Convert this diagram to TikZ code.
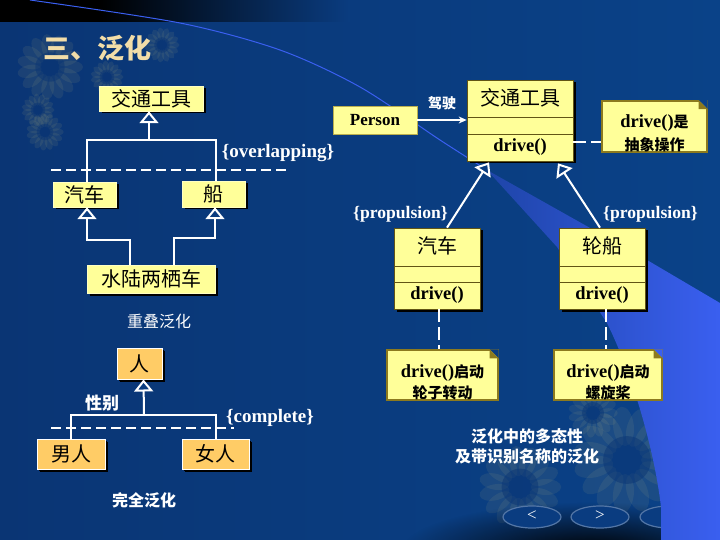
\documentclass[tikz,border=0pt]{standalone}
\usepackage{fontspec}
\setmainfont{Liberation Serif}
\newfontfamily\cjk{Noto Sans CJK SC}
\usetikzlibrary{arrows.meta,shadows,fadings}
\definecolor{bgblue}{HTML}{0A3C80}
\definecolor{bgdeep}{HTML}{0A3574}
\definecolor{bgpale}{HTML}{0A4288}
\definecolor{swoosh}{HTML}{3A5FF0}
\definecolor{swooshdim}{HTML}{1E45A8}
\definecolor{boxyellow}{HTML}{FFFF99}
\definecolor{boxorange}{HTML}{FFCC66}
\definecolor{noteedge}{HTML}{8C7A1E}
\definecolor{titletan}{HTML}{F2DDA8}
\definecolor{petaltan}{HTML}{C8C080}
\tikzfading[name=glowfade,inner color=transparent!0,outer color=transparent!100]
\tikzset{
  boxshadow/.style={drop shadow={shadow xshift=2.5pt,shadow yshift=-2.5pt,fill=black,opacity=1}},
  simplebox/.style={rectangle,draw=boxyellow!60!white,line width=.5pt,fill=boxyellow,inner sep=0pt,text=black,boxshadow,font=\cjk\fontsize{20}{22}\selectfont},
  orangebox/.style={simplebox,fill=boxorange,draw=white,line width=1pt,drop shadow={shadow xshift=1.5pt,shadow yshift=-1.5pt,fill=black,opacity=1}},
  classpart/.style={rectangle,draw=noteedge!70!black,line width=.7pt,fill=boxyellow,inner sep=0pt,text=black,minimum width=#1,boxshadow,font=\cjk\fontsize{20}{22}\selectfont},
  methodfont/.style={font=\bfseries\fontsize{18.5}{20}\selectfont},
  notebox/.style={rectangle,draw=noteedge,line width=1.4pt,fill=boxyellow,inner sep=0pt,text=black,align=center},
  linkline/.style={draw=white,line width=2pt},
  genarrow/.style={linkline,-{Triangle[open,fill=bgblue,length=12pt,width=19pt,line width=2pt]}},
  dashline/.style={draw=white,line width=1.8pt,dash pattern=on 10pt off 5pt},
  notelink/.style={draw=white,line width=1.8pt,dash pattern=on 13pt off 5pt},
  whitelabel/.style={text=white,inner sep=0pt},
  latinlabel/.style={whitelabel,font=\bfseries\fontsize{19}{20}\selectfont},
  proplabel/.style={whitelabel,font=\bfseries\fontsize{17.6}{20}\selectfont},
  cjklabel/.style={whitelabel,font=\cjk\fontsize{#1}{#1}\selectfont},
  cjkbold/.style={whitelabel,font=\cjk\bfseries\fontsize{#1}{#1}\selectfont},
  flowerpetal/.style={fill=petaltan,opacity=.09},
  navbutton/.style={fill=bgblue,draw=white!30!bgblue,line width=1.2pt}
}
\newcommand{\notefold}[2]{
  \fill[#2] ([xshift=-9pt]#1.north east) -- (#1.north east) -- ([yshift=-9pt]#1.north east) -- cycle;
  \fill[noteedge] ([xshift=-9pt]#1.north east) -- ([xshift=-9pt,yshift=-9pt]#1.north east) -- ([yshift=-9pt]#1.north east) -- cycle;
}
\newcommand{\sunflower}[3]{
  \foreach \petal in {0,24,...,336}
    \fill[flowerpetal,rotate around={\petal:(#1,#2)}] (#1+#3*.65,#2) ellipse ({#3*.38} and {#3*.2});
  \fill[bgdeep,opacity=.5] (#1,#2) circle ({#3*.46});
}
\begin{document}
\begin{tikzpicture}[x=1pt,y=-1pt]
\useasboundingbox (0,0) rectangle (720,540);
% background
\shade[left color=bgdeep,right color=bgpale] (0,0) rectangle (720,540);
\fill[black] (0,0) rectangle (100,22);
\shade[left color=black,right color=bgblue] (100,0) rectangle (350,22);
\sunflower{50}{67}{32}
\sunflower{107}{77}{16}
\sunflower{162}{45}{17}
\sunflower{38}{110}{16}
\sunflower{45}{132}{18}
\sunflower{627}{460}{52}
\sunflower{520}{487}{40}
\sunflower{593}{413}{24}
\fill[black,path fading=glowfade] (590,552) ellipse (190 and 50);
\path[navbutton] (532,517) ellipse (29 and 11);
\path[navbutton] (600,517) ellipse (29 and 11);
\path[navbutton] (669,517) ellipse (29 and 11);
\draw[swoosh,line width=1pt] plot[smooth] coordinates {(30,0) (180,23) (280,50) (360,87) (440,140) (487,170)};
\shade[left color=swooshdim,middle color=swoosh,right color=swoosh] (487,170) -- (647,260) -- (720,303) -- (720,540) -- (661,540) -- (661,507)
  .. controls (655,455) and (635,380) .. (607,323) -- (557,247) -- cycle;
% left, overlapping
\node[simplebox,minimum width=104pt,minimum height=25pt] (vehicle) at (151,98.5){交通工具};
\node[simplebox,minimum width=63pt,minimum height=25pt] (car) at (84.5,194.5){汽车};
\node[simplebox,minimum width=63pt,minimum height=26pt] (boat) at (213.5,194){船};
\node[simplebox,minimum width=128pt,minimum height=28pt] (amphi) at (151,279){水陆两栖车};
\coordinate (busa) at (149,140);
\coordinate (busb) at (130,240);
\coordinate (busc) at (174,238);
\draw[genarrow] (busa) -- ([xshift=-2pt]vehicle.south);
\draw[linkline] ([xshift=2.5pt]car.north) |- (busa) -| ([xshift=2.5pt]boat.north);
\draw[genarrow] (busb |- amphi.north) |- ([xshift=2.5pt]car.south |- busb) -- ([xshift=2.5pt]car.south);
\draw[genarrow] (busc |- amphi.north) |- ([xshift=1.5pt]boat.south |- busc) -- ([xshift=1.5pt]boat.south);
\coordinate (dasha) at (51,170);
\coordinate (dashb) at (289,170);
\draw[dashline] (dasha) -- (dashb);
\node[latinlabel] (overlap) at (278,153){\{overlapping\}};
\node[cjklabel=16] (overlapnote) at (159,321){重叠泛化};
\node[cjkbold=27,text=titletan] (title) at (97,48){三、泛化};
% left, complete
\node[orangebox,minimum width=45pt,minimum height=31pt] (person) at (139.5,363.5){人};
\node[orangebox,minimum width=68pt,minimum height=30pt] (man) at (71,454){男人};
\node[orangebox,minimum width=67pt,minimum height=30pt] (woman) at (215.5,454){女人};
\coordinate (busd) at (144,415);
\draw[genarrow] (busd) -- ([xshift=4pt]person.south);
\draw[linkline] (man.north) |- (busd) -| (woman.north);
\coordinate (dashc) at (51,428);
\coordinate (dashd) at (234,428);
\draw[dashline] (dashc) -- (dashd);
\node[cjkbold=17] (gender) at (102,403){性别};
\node[latinlabel] (complete) at (270,418){\{complete\}};
\node[cjkbold=16] (completenote) at (144,500){完全泛化};
% right, class boxes
\node[classpart=106pt,minimum height=37pt] (vtop) at (520,98.5){\raisebox{2pt}{交通工具}};
\node[classpart=106pt,minimum height=17pt] (vmid) at (520,125.5){};
\node[classpart=106pt,minimum height=27pt,methodfont] (vbot) at (520,147.5){\raisebox{-2pt}{drive()}};
\node[classpart=86pt,minimum height=38pt] (ctop) at (437,247){\raisebox{4pt}{汽车}};
\node[classpart=86pt,minimum height=16pt] (cmid) at (437,274){};
\node[classpart=86pt,minimum height=27pt,methodfont] (cbot) at (437,295.5){\raisebox{-2pt}{drive()}};
\node[classpart=86pt,minimum height=38pt] (stop) at (602,247){\raisebox{4pt}{轮船}};
\node[classpart=86pt,minimum height=16pt] (smid) at (602,274){};
\node[classpart=86pt,minimum height=27pt,methodfont] (sbot) at (602,295.5){\raisebox{-2pt}{drive()}};
\node[rectangle,fill=boxyellow,draw=noteedge!60!boxyellow,line width=.7pt,text=black,inner sep=0pt,minimum width=84pt,minimum height=28pt,font=\bfseries\fontsize{17}{18}\selectfont] (driver) at (375,120){Person};
\draw[linkline,-{Stealth[length=8pt,width=7pt]}] (driver.east) -- (vtop.west |- driver.east);
\node[cjkbold=14] (drivelabel) at (442,103){驾驶};
\draw[genarrow] ([xshift=10pt]ctop.north) -- ([xshift=-31pt,yshift=-1pt]vbot.south);
\draw[genarrow] ([xshift=-2pt]stop.north) -- ([xshift=38pt,yshift=-2pt]vbot.south);
\node[proplabel] (propa) at (400.5,214){\{propulsion\}};
\node[proplabel] (propb) at (650.5,214){\{propulsion\}};
% notes
\node[notebox,minimum width=105pt,minimum height=49pt] (notea) at (654.5,126.5){\rule{0pt}{27pt}\bfseries\fontsize{18.5}{22}\selectfont drive()\cjk\fontsize{15}{22}\selectfont 是\\[5pt]\cjk\bfseries\fontsize{15}{20}\selectfont 抽象操作};
\node[notebox,minimum width=111pt,minimum height=50pt] (noteb) at (442.5,375){\rule{0pt}{27pt}\bfseries\fontsize{18.5}{22}\selectfont drive()\cjk\fontsize{15}{22}\selectfont 启动\\[3pt]\cjk\bfseries\fontsize{15}{20}\selectfont 轮子转动};
\node[notebox,minimum width=108pt,minimum height=50pt] (notec) at (608,375){\rule{0pt}{27pt}\bfseries\fontsize{18.5}{22}\selectfont drive()\cjk\fontsize{15}{22}\selectfont 启动\\[3pt]\cjk\bfseries\fontsize{15}{20}\selectfont 螺旋桨};
\notefold{notea}{bgpale}
\notefold{noteb}{bgblue}
\notefold{notec}{swoosh}
\draw[notelink] ([yshift=5.5pt]vbot.east) -- ([yshift=5.5pt]notea.west |- vbot.east);
\draw[notelink] ([xshift=2pt]cbot.south) -- ([xshift=2pt]cbot.south |- noteb.north);
\draw[notelink] ([xshift=4pt]sbot.south) -- ([xshift=4pt]sbot.south |- notec.north);
\node[cjkbold=16] (polya) at (527,436){泛化中的多态性};
\node[cjkbold=16] (polyb) at (527,456){及带识别名称的泛化};
% nav buttons
\node[whitelabel,font=\fontsize{17}{17}\selectfont] (prevbtn) at (532,516){<};
\node[whitelabel,font=\fontsize{17}{17}\selectfont] (nextbtn) at (600,516){>};
\end{tikzpicture}
\end{document}
